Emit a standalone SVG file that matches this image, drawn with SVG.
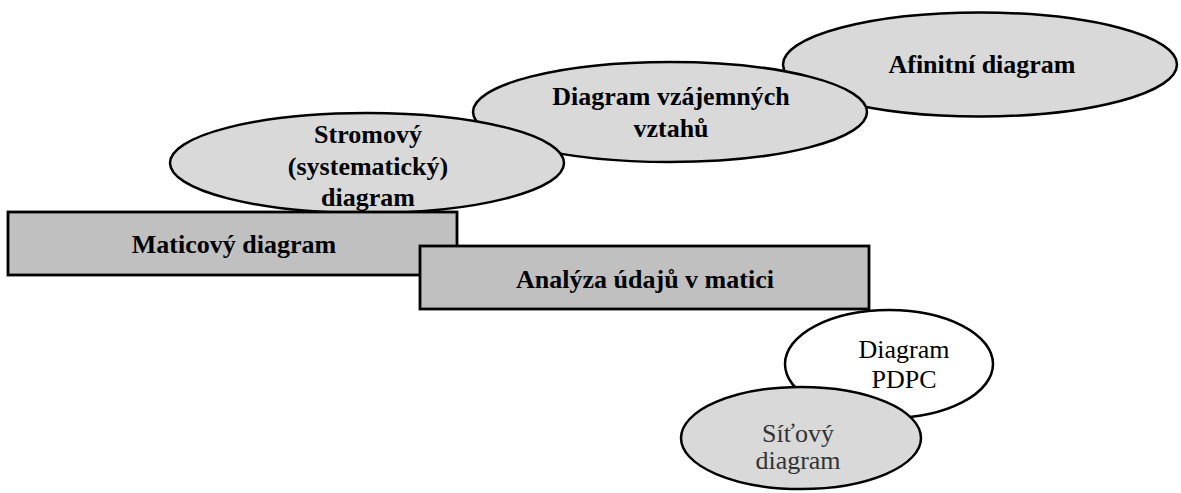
<svg xmlns="http://www.w3.org/2000/svg" width="1181" height="493" viewBox="0 0 1181 493">
  <style>
    .oval { fill: #d9d9d9; stroke: #000; stroke-width: 2.5; }
    .oval-white { fill: #fff; stroke: #000; stroke-width: 2.5; }
    .box { fill: #c0c0c0; stroke: #000; stroke-width: 2.8; }
    .bold { font-family: "Liberation Serif", "Times New Roman", serif; font-weight: bold; font-size: 26px; fill: #000; text-anchor: middle; }
    .plain { font-family: "Liberation Serif", "Times New Roman", serif; font-size: 26px; fill: #000; text-anchor: middle; }
    .grey { fill: #333; }
  </style>
  <rect width="1181" height="493" fill="#fff"/>

  <g id="connectors"></g>

  <g id="afinitni">
    <ellipse class="oval" cx="980" cy="64.5" rx="197" ry="52"/>
    <text class="bold" x="982" y="73">Afinitní diagram</text>
  </g>

  <g id="vztahy">
    <ellipse class="oval" cx="670" cy="112" rx="197" ry="50"/>
    <text class="bold" x="671" y="105">Diagram vzájemných</text>
    <text class="bold" x="671" y="137">vztahů</text>
  </g>

  <g id="stromovy">
    <ellipse class="oval" cx="367" cy="163" rx="197" ry="50"/>
    <text class="bold" x="368" y="143">Stromový</text>
    <text class="bold" x="368" y="175">(systematický)</text>
    <text class="bold" x="368" y="206">diagram</text>
  </g>

  <g id="maticovy">
    <rect class="box" x="8" y="212" width="449" height="63"/>
    <text class="bold" x="234" y="253">Maticový diagram</text>
  </g>

  <g id="analyza">
    <rect class="box" x="420" y="246" width="449" height="63"/>
    <text class="bold" x="645" y="288">Analýza údajů v matici</text>
  </g>

  <g id="pdpc">
    <ellipse class="oval-white" cx="889" cy="364" rx="104" ry="54"/>
    <text class="plain" x="904" y="358">Diagram</text>
    <text class="plain" x="904" y="388">PDPC</text>
  </g>

  <g id="sitovy">
    <ellipse class="oval" cx="801" cy="438" rx="120" ry="51"/>
    <text class="plain grey" x="798" y="442">Síťový</text>
    <text class="plain grey" x="798" y="469">diagram</text>
  </g>
</svg>
